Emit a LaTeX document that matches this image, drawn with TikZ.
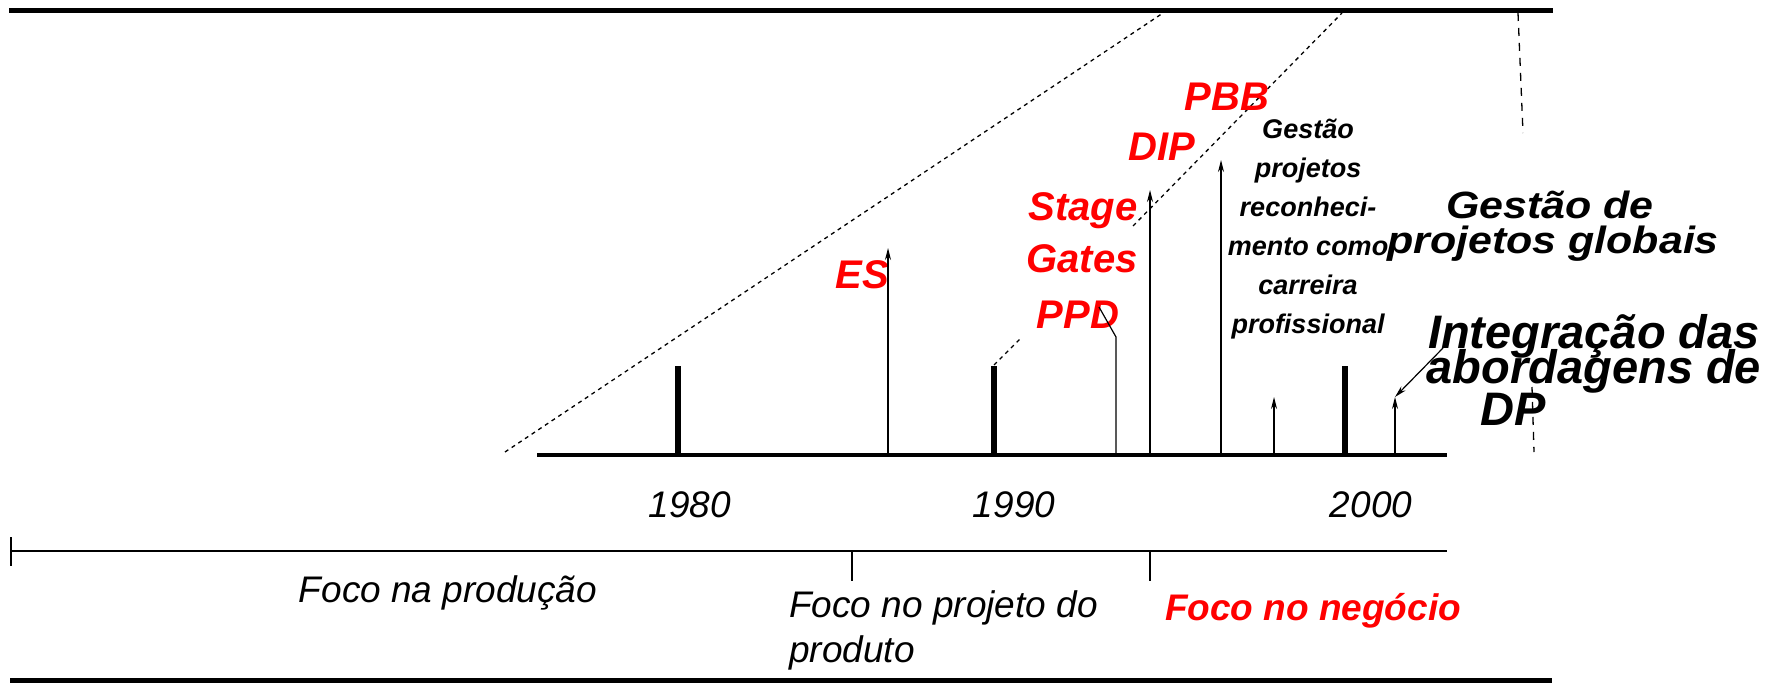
\documentclass[tikz,border=0pt]{standalone}
\usepackage{fontspec}
\usepackage{graphicx}
\setmainfont{Liberation Sans}
\usetikzlibrary{arrows.meta,calc}
\tikzstyle{frameline}=[line width=5pt]
\tikzstyle{yearaxis}=[line width=3.5pt]
\tikzstyle{yearbar}=[line width=6pt]
\tikzstyle{eraline}=[line width=1.8pt]
\tikzstyle{thinline}=[line width=1.2pt]
\tikzstyle{eventarrow}=[line width=1.2pt,-{Stealth[length=12pt,width=6pt]}]
\tikzstyle{trend}=[line width=1.3pt,dash pattern=on 4pt off 4pt]
\tikzstyle{redlabel}=[text=red,font=\fontsize{40}{48}\selectfont\bfseries\itshape,inner sep=0pt,anchor=base]
\tikzstyle{smalllabel}=[font=\fontsize{27}{32}\selectfont\bfseries\itshape,inner sep=0pt,anchor=base]
\tikzstyle{biglabel}=[font=\fontsize{38}{44}\selectfont\bfseries\itshape,inner sep=0pt,anchor=base]
\tikzstyle{intlabel}=[font=\fontsize{47}{54}\selectfont\bfseries\itshape,inner sep=0pt,anchor=base]
\tikzstyle{plainlabel}=[font=\fontsize{37}{44}\selectfont\itshape,inner sep=0pt,anchor=base]
\newcommand{\widen}[1]{\scalebox{1.13}[1]{#1}}

\begin{document}
\begin{tikzpicture}[x=1pt,y=-1pt]
	\useasboundingbox (0,0) rectangle (1775,683);
	% frame lines
	\draw[frameline] (9,10) -- (1553,10);
	\draw[frameline] (10,680) -- (1552,680);
	% dashed trend lines (drawn first, text goes over them)
	\coordinate (t1a) at (505,452);
	\coordinate (t1b) at (1163,13);
	\coordinate (t2a) at (994,365);
	\coordinate (t2b) at (1022,337);
	\coordinate (t2c) at (1133,226);
	\coordinate (t2d) at (1342,13);
	\coordinate (t3a) at (1518,13);
	\coordinate (t3b) at (1523,133);
	\coordinate (t3c) at (1532,387);
	\coordinate (t3d) at (1534,452);
	\draw[trend] (t1a) -- (t1b);
	\draw[trend] (t2a) -- (t2b);
	\draw[trend] (t2c) -- (t2d);
	\draw[trend,dash pattern=on 8pt off 7pt] (t3a) -- (t3b);
	\draw[trend,dash pattern=on 8pt off 7pt] (t3c) -- (t3d);
	% year axis
	\coordinate (ax-l) at (537,455);
	\coordinate (ax-r) at (1447,455);
	\draw[yearaxis] (ax-l) -- (ax-r);
	\foreach \x/\n in {678/1980,994/1990,1345/2000}{
		\coordinate (bar\n-b) at (\x,455);
		\coordinate (bar\n-t) at (\x,366);
		\draw[yearbar] (bar\n-b) -- (bar\n-t);
	}
	\node[plainlabel] (y1980) at (690,517) {1980};
	\node[plainlabel] (y1990) at (1014,517) {1990};
	\node[plainlabel] (y2000) at (1371,517) {2000};
	% era line
	\coordinate (era-l) at (11,551);
	\coordinate (era-r) at (1447,551);
	\draw[eraline] (era-l) -- (era-r);
	\draw[line width=2.5pt] (11,537) -- (11,566);
	\foreach \x/\n in {852/a,1150/b}{
		\coordinate (era\n-t) at (\x,551);
		\coordinate (era\n-b) at (\x,581);
		\draw[eraline] (era\n-t) -- (era\n-b);
	}
	\node[plainlabel] (focoprod) at (448,602) {Foco na produção};
	\node[plainlabel,anchor=base west] (focoproj) at (789,617) {Foco no projeto do};
	\node[plainlabel,anchor=base west] (produto) at (789,662) {produto};
	\node[plainlabel,text=red,font=\fontsize{37}{44}\selectfont\bfseries\itshape] (foconeg) at (1313,620) {Foco no negócio};
	% events
	\node[redlabel] (es) at (862,288) {ES};
	\node[redlabel] (stage) at (1083,220) {Stage};
	\node[redlabel] (gates) at (1082,272) {Gates};
	\node[redlabel] (ppd) at (1078,328) {PPD};
	\node[redlabel] (dip) at (1162,160) {DIP};
	\node[redlabel] (pbb) at (1227,110) {PBB};
	\foreach \txt [count=\i] in {Gestão,projetos,reconheci-,mento como,carreira,profissional}
		\node[smalllabel] (gp\i) at (1308,99+39*\i) {\txt};
	\node[biglabel] (glob1) at (1550,218) {\widen{Gestão de}};
	\node[biglabel] (glob2) at (1553,253) {\widen{projetos globais}};
	\node[intlabel] (integ1) at (1594,348) {Integração das};
	\node[intlabel] (integ2) at (1594,383) {abordagens de};
	\node[intlabel] (integ3) at (1513,425) {DP};
	% arrows up from the axis
	\foreach \x/\top/\n in {888/248/es,1150/190/stage,1221/160/dip,1274/397/gp,1395/397/integ}{
		\coordinate (\n-base) at (\x,455);
		\coordinate (\n-tip) at (\x,\top);
		\draw[eventarrow] (\n-base) -- (\n-tip);
	}
	\coordinate (ppd-base) at (1116,455);
	\coordinate (ppd-knee) at (1116,337);
	\coordinate (ppd-end) at (1099,307);
	\draw[thinline] (ppd-base) -- (ppd-knee) -- (ppd-end);
	\coordinate (integ-from) at (1443,348);
	\draw[eventarrow] (integ-from) -- (integ-tip);
\end{tikzpicture}
\end{document}
